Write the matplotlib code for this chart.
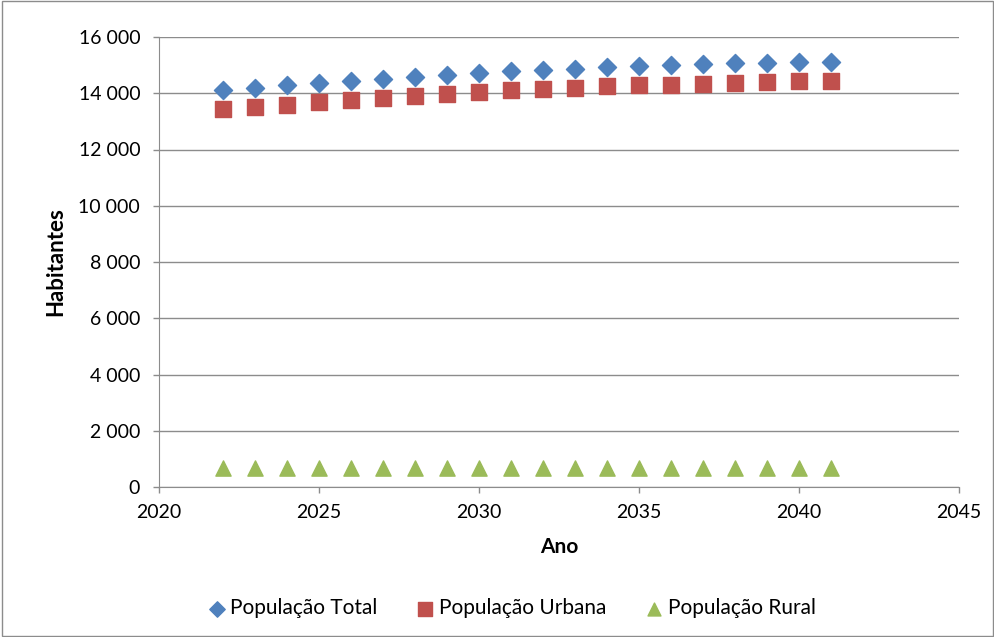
import matplotlib
matplotlib.use("Agg")
import matplotlib.pyplot as plt
from matplotlib.ticker import FuncFormatter
from matplotlib.patches import Rectangle

plt.rcParams['font.family'] = ['Lato', 'DejaVu Sans']

anos = list(range(2022, 2042))
pop_total = [14110, 14190, 14280, 14370, 14440, 14520, 14590, 14660, 14720, 14780,
             14830, 14880, 14930, 14970, 15010, 15040, 15070, 15090, 15110, 15120]
pop_urbana = [13430, 13500, 13590, 13690, 13750, 13830, 13910, 13990, 14040, 14100,
              14150, 14190, 14250, 14280, 14300, 14340, 14370, 14390, 14420, 14430]
pop_rural = [690, 690, 685, 685, 685, 685, 685, 680, 680, 680,
             680, 680, 680, 680, 680, 680, 680, 680, 680, 680]

fig = plt.figure(figsize=(9.95, 6.37), dpi=100)
ax = fig.add_axes([159 / 995, 1 - 487 / 637, 800 / 995, 450 / 637])

ax.scatter(anos, pop_total, marker='D', s=85, color='#4F81BD', label='População Total', zorder=3)
ax.scatter(anos, pop_urbana, marker='s', s=140, color='#C0504D', label='População Urbana', zorder=3)
ax.scatter(anos, pop_rural, marker='^', s=120, color='#9BBB59', label='População Rural', zorder=3)

ax.set_xlim(2020, 2045)
ax.set_ylim(0, 16000)
ax.set_xticks(range(2020, 2046, 5))
ax.set_yticks(range(0, 16001, 2000))
ax.yaxis.set_major_formatter(FuncFormatter(lambda v, p: f"{int(v):,}".replace(",", " ")))
ax.grid(axis='y', color='#8c8c8c', linewidth=1)
ax.set_axisbelow(True)
for s in ['top', 'right']:
    ax.spines[s].set_visible(False)
for s in ['left', 'bottom']:
    ax.spines[s].set_color('#8c8c8c')
ax.tick_params(axis='both', colors='#8c8c8c', labelcolor='black', labelsize=14, length=4.5, width=1)
ax.tick_params(axis='y', pad=9)
ax.tick_params(axis='x', pad=8)

ax.set_xlabel('Ano', fontsize=15, fontweight='bold', labelpad=11)
ax.set_ylabel('Habitantes', fontsize=16, fontweight='bold', labelpad=9)

fig.legend(loc='center', bbox_to_anchor=(512 / 995, 1 - 608 / 637), ncol=3, frameon=False,
           fontsize=15, handletextpad=0.25, handlelength=0.8, columnspacing=1.9,
           scatterpoints=1, markerscale=0.85)

fig.patches.append(Rectangle((0.002, 0.002), 0.996, 0.996, transform=fig.transFigure,
                             fill=False, edgecolor='#8c8c8c', linewidth=1))

fig.savefig('out.png', dpi=100)
